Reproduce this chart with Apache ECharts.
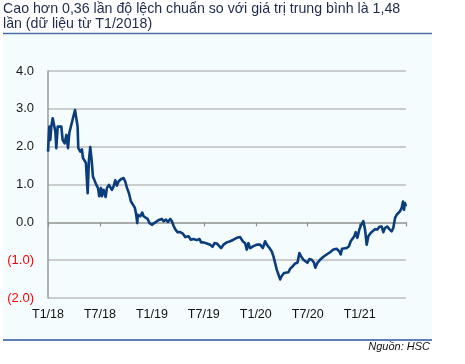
<!DOCTYPE html>
<html>
<head>
<meta charset="utf-8">
<script src="https://cdn.jsdelivr.net/npm/echarts@6/dist/echarts.min.js"></script>
<style>
html,body{margin:0;padding:0;background:#ffffff;}
#chart{width:465px;height:364px;}
</style>
</head>
<body>
<div id="chart"></div>
<script>
// Months since Jan 2018 (fractional)
var months = [
  0,0.15,0.27,0.38,0.54,0.73,0.85,0.96,1.12,1.35,
  1.54,1.69,1.92,2.12,2.31,2.46,2.65,2.88,3.12,3.27,
  3.42,3.50,3.73,3.92,4.04,4.23,4.38,4.58,4.73,4.88,
  5.04,5.19,5.38,5.58,5.77,5.92,6.12,6.23,6.42,6.65,
  6.81,7.04,7.19,7.38,7.58,7.77,7.96,8.15,8.42,8.73,
  8.92,9.12,9.35,9.58,9.81,10.04,10.19,10.31,10.38,10.65,
  10.88,11.04,11.27,11.50,11.73,12.00,12.27,12.58,12.88,13.15,
  13.35,13.62,13.85,14.12,14.31,14.50,14.69,14.96,15.27,15.58,
  15.85,16.04,16.23,16.50,16.81,17.19,17.50,17.69,17.96,18.35,
  18.73,19.00,19.23,19.50,19.73,20.00,
  20.27,20.65,21.04,21.42,21.81,22.19,22.50,22.77,22.96,23.15,
  23.35,23.73,24.12,24.50,24.81,25.08,25.27,25.58,25.85,26.04,
  26.23,26.42,26.62,26.81,27.00,27.27,27.50,27.77,27.96,28.27,
  28.54,28.81,29.04,29.23,29.50,29.73,29.96,30.19,30.46,30.73,
  30.88,31.12,31.42,31.81,32.19,32.58,32.96,33.35,33.65,33.81,
  33.96,34.19,34.50,34.77,34.96,35.19,35.38,35.54,35.73,35.96,
  36.19,36.42,36.62,36.81,37.00,37.27,37.50,37.77,38.04,38.27,
  38.54,38.73,38.92,39.19,39.42,39.69,39.88,40.08,40.27,40.46,
  40.65,40.85,41.00,41.12,41.23,41.35
];
// Standard deviations from mean
var values = [
  1.87,2.53,2.18,2.53,2.75,2.71,2.40,1.96,2.53,2.58,
  2.53,2.18,2.09,2.31,1.96,2.36,2.40,2.75,2.97,2.75,
  2.53,1.96,1.87,1.93,1.70,1.70,1.57,0.77,1.65,1.99,
  1.65,1.21,1.17,0.99,0.91,0.69,0.91,0.69,0.86,0.67,
  0.91,0.99,1.04,0.86,0.95,1.11,0.97,1.08,1.14,1.17,
  1.08,0.91,0.77,0.55,0.47,0.38,0.20,-0.02,0.20,0.16,
  0.26,0.16,0.11,0.09,-0.02,-0.06,-0.02,0.03,0.07,0.09,
  0.03,0.07,0.01,0.09,0.03,-0.09,-0.18,-0.26,-0.26,-0.30,
  -0.39,-0.44,-0.37,-0.46,-0.44,-0.47,-0.44,-0.53,-0.53,-0.56,
  -0.59,-0.65,-0.55,-0.56,-0.59,-0.68,
  -0.59,-0.53,-0.50,-0.46,-0.41,-0.39,-0.50,-0.55,-0.72,-0.55,
  -0.68,-0.63,-0.59,-0.59,-0.68,-0.50,-0.59,-0.68,-0.77,-0.90,
  -1.07,-1.25,-1.38,-1.51,-1.42,-1.34,-1.29,-1.32,-1.23,-1.16,
  -1.09,-1.07,-0.81,-0.90,-0.99,-0.99,-1.07,-0.97,-0.99,-1.07,
  -1.20,-1.07,-0.99,-0.91,-0.85,-0.79,-0.72,-0.70,-0.77,-0.85,
  -0.70,-0.72,-0.68,-0.63,-0.50,-0.46,-0.37,-0.26,-0.41,-0.19,
  -0.06,0.03,-0.19,-0.59,-0.37,-0.28,-0.24,-0.18,-0.19,-0.12,
  -0.11,-0.26,-0.15,-0.11,-0.18,-0.24,-0.15,0.11,0.20,0.23,
  0.29,0.38,0.55,0.33,0.51,0.42
];
var tickLabels = ['T1/18','T7/18','T1/19','T7/19','T1/20','T7/20','T1/21'];
var titleText = 'Cao hơn 0,36 lần độ lệch chuẩn so với giá trị trung bình là 1,48\nlần (dữ liệu từ T1/2018)';
var sourceText = 'Nguồn: HSC';

var seriesData = months.map(function (m, i) { return [m, values[i]]; });

var chart = echarts.init(document.getElementById('chart'), null, {renderer: 'canvas'});
var FONT = '"Liberation Sans", Arial, sans-serif';
chart.setOption({
  animation: false,
  backgroundColor: '#ffffff',
  title: {
    text: titleText,
    left: 3, top: 2,
    padding: 0,
    textStyle: {fontFamily: FONT, fontSize: 14.2, fontWeight: 'normal', color: '#1d2b4c', lineHeight: 15}
  },
  graphic: [
    {type: 'rect', z: -10, silent: true, shape: {x: 3, y: 34, width: 429, height: 306}, style: {fill: '#f5fcfd'}},
    {type: 'line', z: -5, silent: true, shape: {x1: 3, y1: 33.5, x2: 432, y2: 33.5}, style: {stroke: '#4a6fa8', lineWidth: 1.5}},
    {type: 'line', z: -5, silent: true, shape: {x1: 3, y1: 340, x2: 432, y2: 340}, style: {stroke: '#5e7fb2', lineWidth: 2}},
    {type: 'text', silent: true, right: 35, top: 341,
      style: {text: sourceText, fontFamily: FONT, fontSize: 11, fontStyle: 'italic', fill: '#111111'}}
  ],
  grid: {left: 48, right: 59, top: 71, bottom: 66, containLabel: false},
  xAxis: [
    {
      type: 'value', min: 0, max: 41.35, interval: 6, position: 'bottom',
      axisLine: {show: false, onZero: false},
      axisTick: {show: false},
      splitLine: {show: false},
      axisLabel: {
        margin: 10, fontFamily: FONT, fontSize: 12.5, color: '#111111',
        showMaxLabel: false,
        formatter: function (v) { var k = Math.round(v / 6); return tickLabels[k] || ''; }
      }
    },
    {
      type: 'value', min: 0, max: 41.35, interval: 6, position: 'bottom',
      axisLine: {show: true, onZero: true, lineStyle: {color: '#a0a0a0', width: 1.5}},
      axisTick: {show: true, length: 4, lineStyle: {color: '#909090', width: 1.2}},
      splitLine: {show: false},
      axisLabel: {show: false}
    }
  ],
  yAxis: {
    type: 'value', min: -2, max: 4, interval: 1,
    axisLine: {show: true, onZero: false, lineStyle: {color: '#9a9a9a', width: 1.5}},
    axisTick: {show: false},
    splitLine: {show: true, lineStyle: {color: '#bcbcbc', width: 1.5}},
    axisLabel: {
      margin: 14, fontFamily: FONT, fontSize: 13,
      color: function (v) { return Number(v) < 0 ? '#ff0000' : '#1a1a1a'; },
      formatter: function (v) {
        var s = Math.abs(v).toFixed(1);
        return v < 0 ? '(' + s + ')' : s;
      }
    }
  },
  series: [{
    type: 'line',
    xAxisIndex: 0,
    data: seriesData,
    showSymbol: false,
    symbol: 'none',
    lineStyle: {color: '#0b3c7c', width: 2.6, join: 'round'},
    z: 5
  }]
});
</script>
</body>
</html>
